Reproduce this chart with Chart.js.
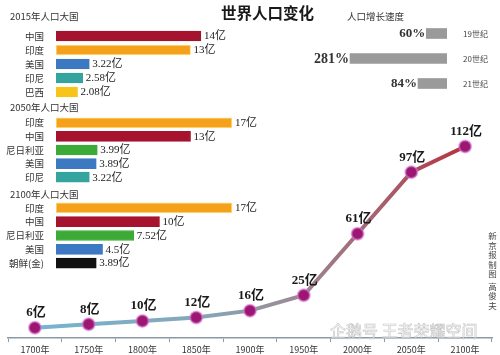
<!DOCTYPE html>
<html>
<head>
<meta charset="utf-8">
<script src="https://cdn.jsdelivr.net/npm/chart.js@4/dist/chart.umd.min.js"></script>
<style>
  html,body{margin:0;padding:0;background:#fff;}
  #wrap{position:relative;width:500px;height:355px;overflow:hidden;background:#fff;font-family:"Noto Sans CJK SC",sans-serif;}
  canvas{position:absolute;}
  .txt{position:absolute;white-space:nowrap;color:#333;line-height:1;}
</style>
</head>
<body>
<div id="wrap">
  <canvas id="line" width="500" height="355" style="left:0;top:0"></canvas>
  <canvas id="b2015" width="263" height="70" style="left:0;top:29px"></canvas>
  <canvas id="b2050" width="263" height="68" style="left:0;top:116px"></canvas>
  <canvas id="b2100" width="263" height="69" style="left:0;top:201px"></canvas>
  <canvas id="growth" width="197" height="75" style="left:300px;top:21px"></canvas>
  <div class="txt" style="left:221px;top:5px;font-family:'Noto Sans CJK SC';font-weight:bold;font-size:15.5px;color:#1a1a1a;">世界人口变化</div>
  <div class="txt" style="left:10px;top:12px;font-size:9.5px;">2015年人口大国</div>
  <div class="txt" style="left:10px;top:103px;font-size:9.5px;">2050年人口大国</div>
  <div class="txt" style="left:10px;top:190px;font-size:9.5px;">2100年人口大国</div>
  <div class="txt" style="left:347px;top:12px;font-size:9.5px;">人口增长速度</div>
  <div class="txt" style="left:488px;top:232px;font-size:8.5px;writing-mode:vertical-rl;letter-spacing:1px;color:#444;">新京报制图 高俊夫</div>
  <div class="txt" style="left:330px;top:322px;font-size:16px;color:rgba(255,255,255,0.6);-webkit-text-stroke:0.6px rgba(170,170,170,0.7);">企鹅号 王者荣耀空间</div>
</div>
<script>
// ---- data ----
const years = ['1700年','1750年','1800年','1850年','1900年','1950年','2000年','2050年','2100年'];
const population = [6, 8, 10, 12, 16, 25, 61, 97, 112];

const countries2015 = ['中国','印度','美国','印尼','巴西'];
const pop2015 = [14, 13, 3.22, 2.58, 2.08];

const countries2050 = ['印度','中国','尼日利亚','美国','印尼'];
const pop2050 = [17, 13, 3.99, 3.89, 3.22];

const countries2100 = ['印度','中国','尼日利亚','美国','朝鲜(金)'];
const pop2100 = [17, 10, 7.52, 4.5, 3.89];

const centuries = ['19世纪','20世纪','21世纪'];
const growthRate = [60, 281, 84];

// ---- styles ----
const colorOf = {
  '中国':'#a5132f', '印度':'#f6a11b', '美国':'#3d79c2', '印尼':'#35a39e',
  '巴西':'#f7c419', '尼日利亚':'#3caa37', '朝鲜(金)':'#111111'
};
const serif = "'Liberation Serif','Noto Sans CJK SC',serif";
const noPad = s => { s.paddingTop = 0; s.paddingBottom = 0; s.paddingLeft = 0; s.paddingRight = 0; };

const barLabelPlugin = {
  id:'barLabels',
  afterDatasetsDraw(chart){
    const ctx = chart.ctx;
    const meta = chart.getDatasetMeta(0);
    const vals = chart.data.datasets[0].data;
    ctx.save();
    ctx.font = "11px " + serif;
    ctx.fillStyle = '#222';
    ctx.textAlign = 'left';
    ctx.textBaseline = 'middle';
    meta.data.forEach((bar,i)=>{
      ctx.fillText(vals[i] + '亿', bar.x + 3, bar.y + 0.5);
    });
    ctx.restore();
  }
};

function makeBars(id, labels, values){
  new Chart(document.getElementById(id), {
    type:'bar',
    data:{labels:labels, datasets:[{
      data:values,
      backgroundColor:labels.map(c=>colorOf[c]),
      borderColor:labels.map(c=>c==='印度' ? '#fde08a' : colorOf[c]),
      borderWidth:1,
      borderSkipped:false,
      barThickness:10
    }]},
    options:{
      indexAxis:'y', responsive:false, animation:false,
      layout:{padding:0},
      plugins:{legend:{display:false}, tooltip:{enabled:false}},
      scales:{
        x:{display:false, min:0, max:20},
        y:{
          afterFit:s=>{ s.width = 56; noPad(s); },
          grid:{display:false}, border:{display:false},
          ticks:{autoSkip:false, padding:4, color:'#333', font:{size:9.5, family:"'Noto Sans CJK SC'"}}
        }
      }
    },
    plugins:[barLabelPlugin]
  });
}
makeBars('b2015', countries2015, pop2015);
makeBars('b2050', countries2050, pop2050);
makeBars('b2100', countries2100, pop2100);

// growth-rate chart
new Chart(document.getElementById('growth'), {
  type:'bar',
  data:{labels:centuries, datasets:[{data:growthRate, backgroundColor:'#9a9a9a', barThickness:10}]},
  options:{
    indexAxis:'y', responsive:false, animation:false,
    layout:{padding:0},
    plugins:{legend:{display:false}, tooltip:{enabled:false}},
    scales:{
      x:{display:false, min:0, max:426, reverse:true},
      y:{
        position:'right',
        afterFit:s=>{ s.width = 50; noPad(s); },
        grid:{display:false}, border:{display:false},
        ticks:{autoSkip:false, padding:8, color:'#444', font:{size:8, family:"'Noto Sans CJK SC'"}}
      }
    }
  },
  plugins:[{
    id:'growthLabels',
    afterDatasetsDraw(chart){
      const ctx = chart.ctx;
      const meta = chart.getDatasetMeta(0);
      const vals = chart.data.datasets[0].data;
      ctx.save();
      ctx.fillStyle = '#333';
      ctx.textAlign = 'right';
      ctx.textBaseline = 'middle';
      meta.data.forEach((bar,i)=>{
        ctx.font = "bold " + (vals[i] > 200 ? 14 : 13) + "px " + serif;
        ctx.fillText(vals[i] + '%', bar.x - 1, bar.y + 0.5);
      });
      ctx.restore();
    }
  }]
});

// population line chart
new Chart(document.getElementById('line'), {
  type:'line',
  data:{labels:years, datasets:[{
    data:population,
    borderWidth:4,
    borderColor:(c)=>{
      const ca = c.chart.chartArea;
      if(!ca) return '#999';
      const g = c.chart.ctx.createLinearGradient(ca.left, 0, ca.right, 0);
      g.addColorStop(0, '#74b6d4');
      g.addColorStop(0.4, '#86a6b8');
      g.addColorStop(0.58, '#9a8c98');
      g.addColorStop(0.8, '#a85a68');
      g.addColorStop(1, '#c0202e');
      return g;
    },
    tension:0,
    pointRadius:6,
    pointBackgroundColor:'#9c1870',
    pointBorderColor:'rgba(214,120,214,0.6)',
    pointBorderWidth:2
  }]},
  options:{
    responsive:false, animation:false,
    layout:{padding:{left:8, right:3, top:0, bottom:0}},
    plugins:{legend:{display:false}, tooltip:{enabled:false}},
    scales:{
      y:{display:false, min:0, max:193},
      x:{
        offset:true,
        afterFit:s=>{ s.height = 17; noPad(s); },
        grid:{offset:true, drawOnChartArea:false, drawTicks:true, tickLength:4, color:'#8a9aa6'},
        border:{display:true, color:'#8a9aa6', width:1.5},
        ticks:{padding:2, color:'#333', autoSkip:false, maxRotation:0, font:{size:9, family:"'Noto Sans CJK SC'"}}
      }
    }
  },
  plugins:[{
    id:'pointLabels',
    afterDatasetsDraw(chart){
      const ctx = chart.ctx;
      const meta = chart.getDatasetMeta(0);
      const vals = chart.data.datasets[0].data;
      ctx.save();
      ctx.font = "bold 13px " + serif;
      ctx.fillStyle = '#1a1a1a';
      ctx.textAlign = 'center';
      ctx.textBaseline = 'middle';
      meta.data.forEach((p,i)=>{
        ctx.fillText(vals[i] + '亿', p.x + 1, p.y - 15);
      });
      ctx.restore();
    }
  }]
});
</script>
</body>
</html>
